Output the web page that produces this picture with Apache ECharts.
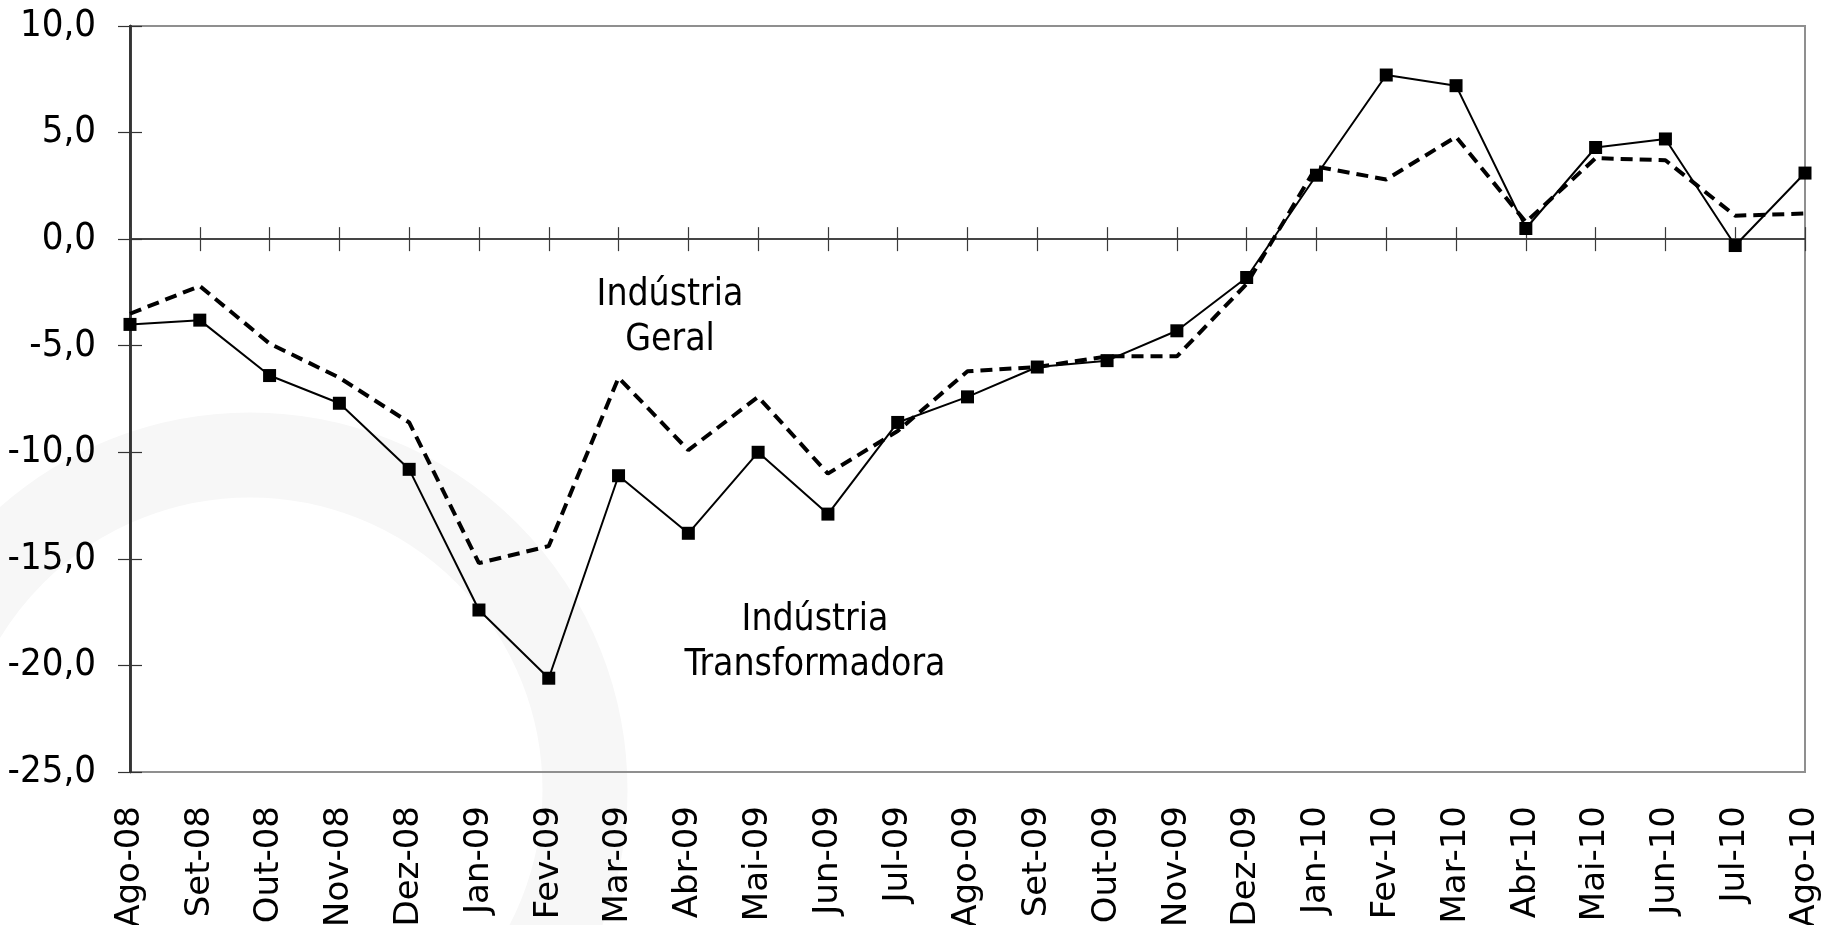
<!DOCTYPE html>
<html>
<head>
<meta charset="utf-8">
<script src="https://cdn.jsdelivr.net/npm/echarts@6/dist/echarts.min.js"></script>
<style>
  html, body { margin: 0; padding: 0; background: #fff; }
  #chart { width: 1831px; height: 925px; }
</style>
</head>
<body>
<div id="chart"></div>
<script>
// meses (Ago-08 a Ago-10)
const months = ['Ago-08', 'Set-08', 'Out-08', 'Nov-08', 'Dez-08', 'Jan-09', 'Fev-09', 'Mar-09', 'Abr-09',
  'Mai-09', 'Jun-09', 'Jul-09', 'Ago-09', 'Set-09', 'Out-09', 'Nov-09', 'Dez-09', 'Jan-10', 'Fev-10',
  'Mar-10', 'Abr-10', 'Mai-10', 'Jun-10', 'Jul-10', 'Ago-10']

// Indústria Geral (tracejado)
const industriaGeral = [-3.5, -2.2, -4.9, -6.5, -8.6, -15.2, -14.4, -6.5, -9.9, -7.4, -11.0, -9.0,
  -6.2, -6.0, -5.5, -5.5, -2.1, 3.4, 2.8, 4.8, 0.8, 3.8, 3.7, 1.1, 1.2]

// Indústria Transformadora (linha com marcadores)
const industriaTransf = [-4.0, -3.8, -6.4, -7.7, -10.8, -17.4, -20.6, -11.1, -13.8, -10.0, -12.9, -8.6,
  -7.4, -6.0, -5.7, -4.3, -1.8, 3.0, 7.7, 7.2, 0.5, 4.3, 4.7, -0.3, 3.1]

// eixo y
const yMin = -25
const yMax = 10
const yStep = 5

const condFont = "'DejaVu Sans Condensed', 'Liberation Sans Narrow', 'DejaVu Sans', sans-serif"
const wideFont = "'DejaVu Sans', Verdana, sans-serif"

const chart = echarts.init(document.getElementById('chart'), null, { renderer: 'canvas' })

const fmt = v => v.toFixed(1).replace('.', ',')

// eixo x no zero, com marcas cruzando a linha
const zeroAxis = inside => ({
  type: 'category',
  data: months,
  boundaryGap: false,
  position: 'bottom',
  axisLine: { show: true, onZero: true, onZeroAxisIndex: 0, lineStyle: { color: '#3a3a3a', width: 1.5 } },
  axisTick: { show: true, inside, length: 12, interval: 0, lineStyle: { color: '#3a3a3a', width: 1.2 } },
  axisLabel: { show: false },
  splitLine: { show: false }
})

// eixo y com marcas cruzando
const valueAxis = (inside, labels) => ({
  type: 'value',
  min: yMin,
  max: yMax,
  interval: yStep,
  position: 'left',
  axisLine: { show: true, lineStyle: { color: '#333', width: 2.5 } },
  axisTick: { show: true, inside, length: 12, lineStyle: { color: '#333', width: 1.2 } },
  axisLabel: labels ? {
    formatter: fmt,
    margin: 34,
    fontSize: 38,
    fontFamily: condFont,
    color: '#000'
  } : { show: false },
  splitLine: { show: false }
})

const annot = (text, x, y) => ({
  type: 'text',
  x,
  y,
  z: 10,
  style: {
    text,
    align: 'center',
    verticalAlign: 'middle',
    font: '37px ' + condFont,
    lineHeight: 45,
    fill: '#000'
  }
})

const option = {
  animation: false,
  backgroundColor: '#fff',
  grid: {
    left: 130,
    right: 26,
    top: 26,
    bottom: 153,
    outerBoundsMode: 'none',
    containLabel: false,
    show: true,
    borderColor: '#8f8f8f',
    borderWidth: 2,
    backgroundColor: 'transparent'
  },
  graphic: [
    // marca d'água
    {
      type: 'circle',
      z: -10,
      silent: true,
      shape: { cx: 250, cy: 790, r: 335 },
      style: { fill: 'none', stroke: '#f7f7f7', lineWidth: 85 }
    },
    annot('Indústria\nGeral', 670, 318),
    annot('Indústria\nTransformadora', 815, 643)
  ],
  xAxis: [{
    type: 'category',
    data: months,
    boundaryGap: false,
    position: 'bottom',
    axisLine: { show: false, onZero: false },
    axisTick: { show: false },
    axisLabel: {
      interval: 0,
      rotate: 90,
      margin: 34,
      fontSize: 34,
      fontFamily: wideFont,
      color: '#000'
    },
    splitLine: { show: false }
  }, zeroAxis(false), zeroAxis(true)],
  yAxis: [valueAxis(false, true), valueAxis(true, false)],
  series: [{
    name: 'Indústria Geral',
    type: 'line',
    data: industriaGeral,
    showSymbol: false,
    symbol: 'none',
    lineStyle: { color: '#000', width: 4, type: [12, 7], cap: 'butt' },
    z: 3
  }, {
    name: 'Indústria Transformadora',
    type: 'line',
    data: industriaTransf,
    symbol: 'rect',
    symbolSize: 13,
    itemStyle: { color: '#000' },
    lineStyle: { color: '#000', width: 2 },
    z: 4
  }]
}

chart.setOption(option)
</script>
</body>
</html>
